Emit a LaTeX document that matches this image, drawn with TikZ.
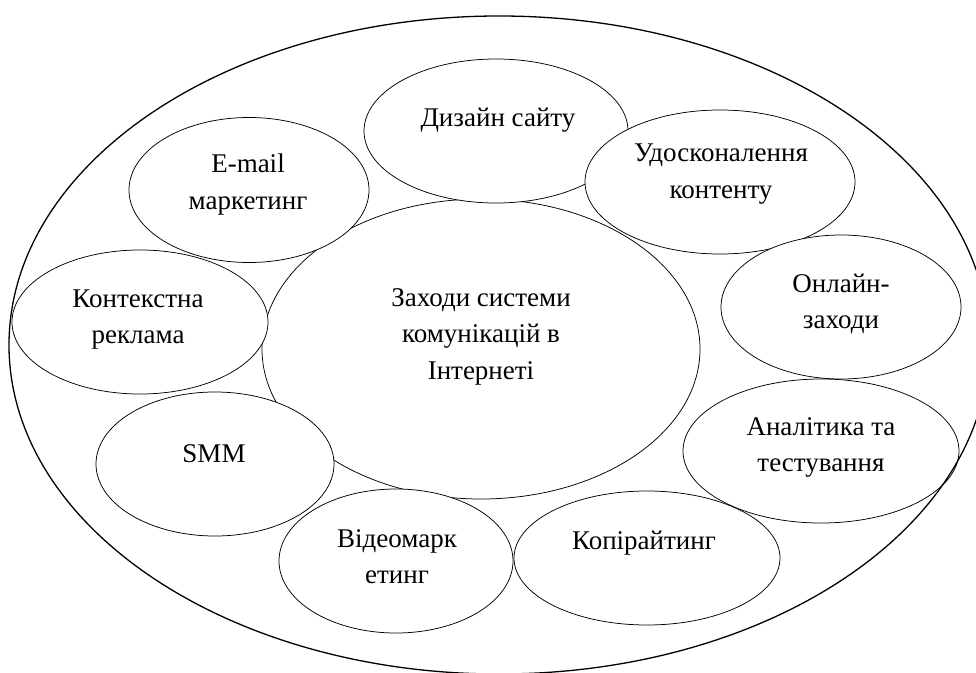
\documentclass[tikz,border=0pt]{standalone}
\usepackage{fontspec}
\setmainfont{Liberation Serif}
\usetikzlibrary{shapes.geometric}
\begin{document}
\begin{tikzpicture}[x=1bp,y=-1bp,
  bub/.style={ellipse, draw, line width=0.75bp, fill=white, inner sep=0pt},
  lbl/.style={anchor=base, inner sep=0pt, font=\fontsize{27bp}{36.5bp}\selectfont}]
\useasboundingbox (0,0) rectangle (976,673);
\clip (0,0) rectangle (976,673);
% central
\node[bub, minimum width=438bp, minimum height=300bp] (cen) at (481,349) {};
% satellites
\node[bub, minimum width=264bp, minimum height=144bp] (dz) at (496,131) {};
\node[bub, minimum width=270bp, minimum height=144bp] (ud) at (720,182) {};
\node[bub, minimum width=240bp, minimum height=144bp] (on) at (841,307) {};
\node[bub, minimum width=266bp, minimum height=134bp] (ko) at (647,558) {};
\node[bub, minimum width=276bp, minimum height=144bp] (an) at (821,451) {};
\node[bub, minimum width=234bp, minimum height=144bp] (vi) at (396,561) {};
\node[bub, minimum width=238bp, minimum height=144bp] (smm) at (215,464) {};
\node[bub, minimum width=256bp, minimum height=144bp] (kr) at (140,322) {};
\node[bub, minimum width=240bp, minimum height=145bp] (em) at (249,190) {};
% outer
\node[ellipse, draw, line width=1.3bp, inner sep=0pt, minimum width=980bp, minimum height=658bp] (outer) at (499,345) {};
% labels
\node[lbl] (tcen) at (481,306) {\begin{tabular}[t]{@{}c@{}}Заходи системи\\комунікацій в\\Інтернеті\end{tabular}};
\node[lbl] (tdz) at (498,127) {Дизайн сайту};
\node[lbl] (tud) at (721,162) {\begin{tabular}[t]{@{}c@{}}Удосконалення\\контенту\end{tabular}};
\node[lbl] (ton) at (841,292) {\begin{tabular}[t]{@{}c@{}}Онлайн-\\заходи\end{tabular}};
\node[lbl] (tan) at (821,435) {\begin{tabular}[t]{@{}c@{}}Аналітика та\\тестування\end{tabular}};
\node[lbl] (tko) at (644,549) {Копірайтинг};
\node[lbl] (tvi) at (397,547) {\begin{tabular}[t]{@{}c@{}}Відеомарк\\етинг\end{tabular}};
\node[lbl] (tsmm) at (214,462) {SMM};
\node[lbl] (tkr) at (138,307) {\begin{tabular}[t]{@{}c@{}}Контекстна\\реклама\end{tabular}};
\node[lbl] (tem) at (248,173) {\begin{tabular}[t]{@{}c@{}}E-mail\\маркетинг\end{tabular}};
\end{tikzpicture}
\end{document}
